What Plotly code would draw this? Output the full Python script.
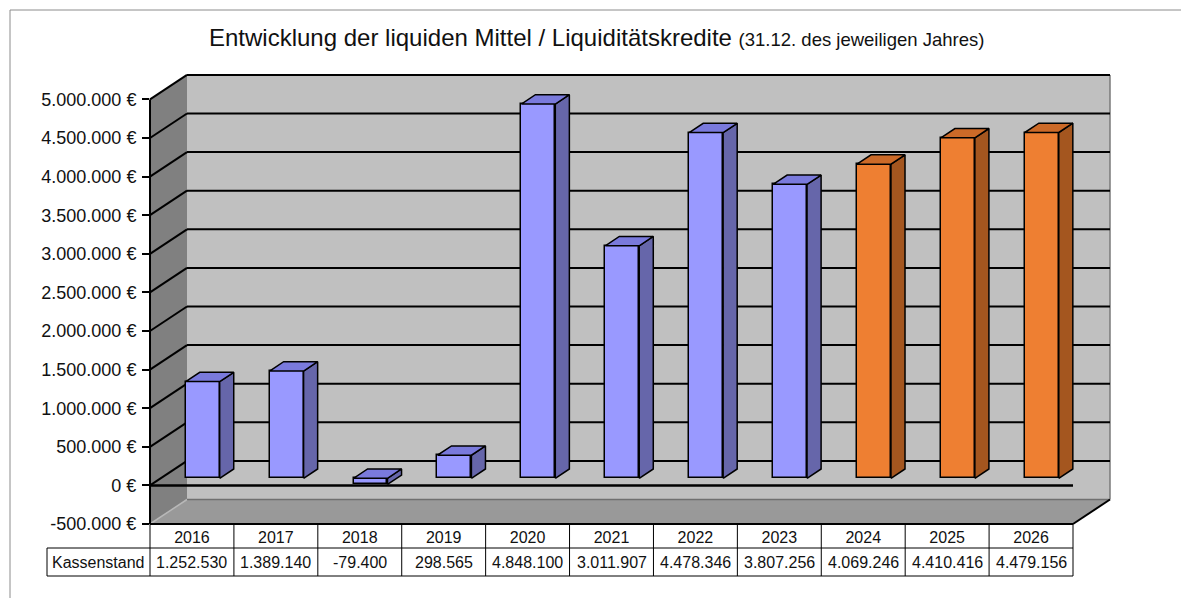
import plotly.graph_objects as go

# ---------------- data ----------------
years = ["2016", "2017", "2018", "2019", "2020", "2021", "2022", "2023", "2024", "2025", "2026"]
kassenstand = [1252530, 1389140, -79400, 298565, 4848100, 3011907, 4478346, 3807256, 4069246, 4410416, 4479156]
is_plan = [False, False, False, False, False, False, False, False, True, True, True]
row_label = "Kassenstand"
title_main = "Entwicklung der liquiden Mittel / Liquiditätskredite"
title_sub = "(31.12. des jeweiligen Jahres)"
tick_values = list(range(-500000, 5000001, 500000))

# ---------------- layout geometry ----------------
W, H = 1181, 598
L, R, T, B = 150, 71, 74, 74
PW, PH = W - L - R, H - T - B
N = len(years)
CW = 923 / N                 # px per category (front plane)
K = 38.6 / 500000            # px per value unit
X0 = -0.5
X1 = X0 + PW / CW
Y0 = tick_values[0]
Y1 = Y0 + PH / K
YTOP = tick_values[-1]
XR = N - 0.5
DXu = 37 / CW                # depth offset in x units
DYu = 24.5 / K               # depth offset in value units
D0, D1 = 0.29, 0.67          # bar depth range
BW = 0.405                   # bar width

FONT = "Liberation Sans, Arial, sans-serif"

BLUE_FRONT, BLUE_TOP, BLUE_SIDE = "#9999FF", "#7A7ADC", "#6666AA"
OR_FRONT, OR_TOP, OR_SIDE = "#EE7F32", "#CC6A28", "#A4561F"


def de(v):
    return f"{v:,}".replace(",", ".")


def pxp(x):
    return (x - X0) / (X1 - X0)


def pyp(y):
    return (y - Y0) / (Y1 - Y0)


def ppx(p):
    return (p - L) / PW


def ppy(p):
    return (H - B - p) / PH


def poly(pts):
    s = "M " + " L ".join(f"{pxp(x)},{pyp(y)}" for x, y in pts) + " Z"
    return s


shapes = []


def line_d(xa, ya, xb, yb, color="black", width=2):
    shapes.append(dict(type="line", xref="paper", yref="paper",
                       x0=pxp(xa), y0=pyp(ya), x1=pxp(xb), y1=pyp(yb),
                       line=dict(color=color, width=width), layer="below"))


def line_p(xa, ya, xb, yb, color="black", width=1):
    shapes.append(dict(type="line", xref="paper", yref="paper",
                       x0=ppx(xa), y0=ppy(ya), x1=ppx(xb), y1=ppy(yb),
                       line=dict(color=color, width=width), layer="below"))


# outer frame
shapes.append(dict(type="rect", xref="paper", yref="paper",
                   x0=ppx(10), y0=ppy(10), x1=ppx(1195), y1=ppy(615),
                   line=dict(color="#8C8C8C", width=1), layer="below"))

# back wall
shapes.append(dict(type="path", xref="paper", yref="paper",
                   path=poly([(X0 + DXu, Y0 + DYu), (XR + DXu, Y0 + DYu),
                              (XR + DXu, YTOP + DYu), (X0 + DXu, YTOP + DYu)]),
                   fillcolor="#C0C0C0", line=dict(width=0), layer="below"))
# side wall
shapes.append(dict(type="path", xref="paper", yref="paper",
                   path=poly([(X0, Y0), (X0, YTOP), (X0 + DXu, YTOP + DYu), (X0 + DXu, Y0 + DYu)]),
                   fillcolor="#808080", line=dict(width=0), layer="below"))
# floor
shapes.append(dict(type="path", xref="paper", yref="paper",
                   path=poly([(X0, Y0), (XR, Y0), (XR + DXu, Y0 + DYu), (X0 + DXu, Y0 + DYu)]),
                   fillcolor="#999999", line=dict(width=0), layer="below"))

# floor edges (light)
line_d(X0, Y0, X0 + DXu, Y0 + DYu, color="#B8B8B8", width=1.5)
line_d(X0 + DXu, Y0 + DYu, XR + DXu, Y0 + DYu, color="#707070", width=1.5)
# back wall right edge
line_d(XR + DXu, Y0 + DYu, XR + DXu, YTOP + DYu, color="#7A7A7A", width=1.5)

# gridlines on walls
for v in tick_values[1:]:
    line_d(X0, v, X0 + DXu, v + DYu, width=2)
    line_d(X0 + DXu, v + DYu, XR + DXu, v + DYu, width=2)

# front edges
line_d(X0, Y0, X0, YTOP, width=2)
line_d(X0, Y0, XR, Y0, width=2)
line_d(XR, Y0, XR + DXu, Y0 + DYu, width=2)
# zero line (category axis)
line_d(X0, 0, XR, 0, width=2.5)

# data table
row1_bot, row2_bot = 548, 576
tab_left = 47
x_left_px = L
x_right_px = L + (XR - X0) * CW
line_p(tab_left, row1_bot, x_right_px, row1_bot)
line_p(tab_left, row2_bot, x_right_px, row2_bot)
line_p(tab_left, row1_bot, tab_left, row2_bot)
for i in range(N + 1):
    xb = X0 + i
    shapes.append(dict(type="line", xref="paper", yref="paper",
                       x0=pxp(xb), x1=pxp(xb), y0=ppy(H - B), y1=ppy(row2_bot),
                       line=dict(color="black", width=1), layer="below"))

# ---------------- traces ----------------
fig = go.Figure()

front_colors = [OR_FRONT if p else BLUE_FRONT for p in is_plan]
xs = [i + D0 * DXu for i in range(N)]
fig.add_trace(go.Bar(
    x=xs, y=kassenstand, base=[D0 * DYu] * N, width=BW,
    marker=dict(color=front_colors, line=dict(color="black", width=1.5)),
    hovertext=[f"{y}: {de(v)} €" for y, v in zip(years, kassenstand)],
    hoverinfo="text", showlegend=False))

bdx = (D1 - D0) * DXu
bdy = (D1 - D0) * DYu


def faces(plan_flag):
    tx, ty, sx, sy = [], [], [], []
    for i, v in enumerate(kassenstand):
        if is_plan[i] != plan_flag:
            continue
        xl = xs[i] - BW / 2
        xr = xs[i] + BW / 2
        yb = D0 * DYu + min(0, v)
        yt = D0 * DYu + max(0, v)
        tx += [xl, xr, xr + bdx, xl + bdx, xl, None]
        ty += [yt, yt, yt + bdy, yt + bdy, yt, None]
        sx += [xr, xr + bdx, xr + bdx, xr, xr, None]
        sy += [yb, yb + bdy, yt + bdy, yt, yb, None]
    return tx, ty, sx, sy


for flag, ctop, cside in [(False, BLUE_TOP, BLUE_SIDE), (True, OR_TOP, OR_SIDE)]:
    tx, ty, sx, sy = faces(flag)
    fig.add_trace(go.Scatter(x=sx, y=sy, mode="lines", fill="toself", fillcolor=cside,
                             line=dict(color="black", width=1.5), hoverinfo="skip",
                             showlegend=False))
    fig.add_trace(go.Scatter(x=tx, y=ty, mode="lines", fill="toself", fillcolor=ctop,
                             line=dict(color="black", width=1.5), hoverinfo="skip",
                             showlegend=False))

# ---------------- annotations ----------------
annotations = [
    dict(xref="paper", yref="paper", x=ppx(207), y=ppy(38), xanchor="left", yanchor="middle",
         showarrow=False,
         text=f"{title_main} <span style='font-size:18.5px'>{title_sub}</span>",
         font=dict(family=FONT, size=24, color="#111111")),
    dict(xref="paper", yref="paper", x=ppx((tab_left + x_left_px) / 2), y=ppy((row1_bot + row2_bot) / 2),
         xanchor="center", yanchor="middle", showarrow=False, text=row_label,
         font=dict(family=FONT, size=16, color="#111111")),
]
for i, v in enumerate(kassenstand):
    annotations.append(dict(xref="x", yref="paper", x=i, y=ppy((row1_bot + row2_bot) / 2),
                            xanchor="center", yanchor="middle", showarrow=False, text=de(v),
                            font=dict(family=FONT, size=16, color="#111111")))

fig.update_layout(
    width=W, height=H,
    margin=dict(l=L, r=R, t=T, b=B, pad=0),
    paper_bgcolor="white", plot_bgcolor="rgba(0,0,0,0)",
    shapes=shapes, annotations=annotations,
    showlegend=False, bargap=0,
    xaxis=dict(range=[X0, X1], tickvals=list(range(N)), ticktext=years,
               showgrid=False, zeroline=False, showline=False, ticks="",
               ticklabelstandoff=2,
               tickfont=dict(family=FONT, size=16, color="#111111"), fixedrange=True),
    yaxis=dict(range=[Y0, Y1], tickvals=tick_values,
               ticktext=[de(v) + " €" for v in tick_values],
               showgrid=False, zeroline=False, showline=False,
               ticks="outside", ticklen=7, tickwidth=1.5, tickcolor="black",
               ticklabelstandoff=2,
               tickfont=dict(family=FONT, size=18, color="#111111"), fixedrange=True),
)

fig.write_html("out.html", config={"displayModeBar": False},
               post_script="document.body.style.margin='0px';")
